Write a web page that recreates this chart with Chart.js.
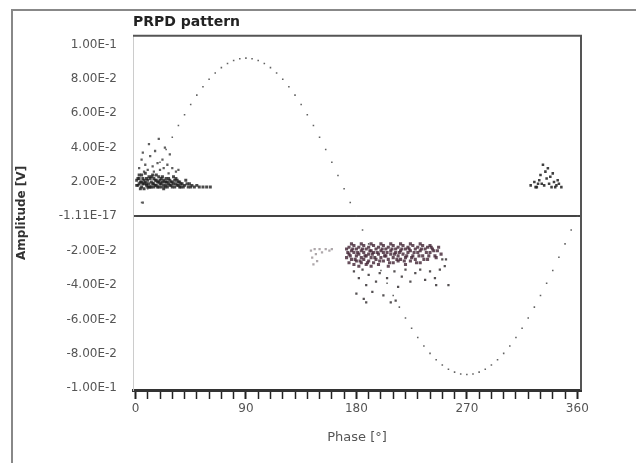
<!DOCTYPE html>
<html>
<head>
<meta charset="utf-8">
<script src="https://cdn.jsdelivr.net/npm/chart.js@4"></script>
<style>
  html, body { margin: 0; padding: 0; background: #fff; }
  #wrap { position: relative; width: 636px; height: 463px; }
</style>
</head>
<body>
<div id="wrap"><canvas id="prpd"></canvas></div>
<script>
// axis ticks
let xTicks = [0, 10, 20, 30, 40, 50, 60, 70, 80, 90, 100, 110, 120, 130, 140, 150, 160, 170, 180,
              190, 200, 210, 220, 230, 240, 250, 260, 270, 280, 290, 300, 310, 320, 330, 340, 350, 360]
let xTickLabels = [0, 90, 180, 270, 360]
let yTicks = [-0.1, -0.08, -0.06, -0.04, -0.02, -1.11e-17, 0.02, 0.04, 0.06, 0.08, 0.1]

// reference sine (phase deg, amplitude V)
let sinePhase = [0, 5, 10, 15, 20, 25, 30, 35, 40, 45, 50, 55, 60, 65, 70, 75, 80, 85, 90,
                 95, 100, 105, 110, 115, 120, 125, 130, 135, 140, 145, 150, 155, 160, 165, 170, 175, 180,
                 185, 190, 195, 200, 205, 210, 215, 220, 225, 230, 235, 240, 245, 250, 255, 260, 265, 270,
                 275, 280, 285, 290, 295, 300, 305, 310, 315, 320, 325, 330, 335, 340, 345, 350, 355, 360]
let sineAmp = [0, .0080, .0160, .0238, .0315, .0389, .0460, .0528, .0591, .0651, .0705, .0754, .0797, .0834, .0865, .0889, .0906, .0917, .0920,
               .0917, .0906, .0889, .0865, .0834, .0797, .0754, .0705, .0651, .0591, .0528, .0460, .0389, .0315, .0238, .0160, .0080, 0,
               -.0080, -.0160, -.0238, -.0315, -.0389, -.0460, -.0528, -.0591, -.0651, -.0705, -.0754, -.0797, -.0834, -.0865, -.0889, -.0906, -.0917, -.0920,
               -.0917, -.0906, -.0889, -.0865, -.0834, -.0797, -.0754, -.0705, -.0651, -.0591, -.0528, -.0460, -.0389, -.0315, -.0238, -.0160, -.0080, 0]

// positive half cluster near 0-60 deg
let posCluster = [
  [1, .021], [2, .018], [3, .024], [4, .020], [5, .017], [6, .022], [7, .019], [8, .025], [9, .018], [10, .021],
  [11, .023], [12, .017], [13, .020], [14, .019], [15, .022], [16, .018], [17, .024], [18, .020], [19, .017], [20, .021],
  [21, .019], [22, .023], [23, .018], [24, .020], [25, .022], [26, .017], [27, .019], [28, .021], [29, .018], [30, .020],
  [31, .023], [32, .017], [33, .019], [34, .021], [35, .018], [36, .020], [37, .017], [38, .019], [40, .018], [41, .021],
  [43, .017], [44, .019], [46, .018], [48, .017], [50, .018], [52, .017], [55, .017], [58, .017], [61, .017],
  [2, .022], [4, .016], [6, .019], [8, .020], [10, .017], [12, .022], [14, .024], [16, .021], [18, .017], [20, .019],
  [22, .020], [24, .017], [26, .020], [28, .018], [30, .017], [32, .021], [34, .018], [36, .017], [3, .019], [5, .020],
  [7, .016], [9, .022], [11, .019], [13, .017], [15, .019], [17, .018], [19, .020], [21, .017], [23, .021], [25, .018],
  [1, .018], [3, .022], [5, .024], [7, .021], [9, .019], [11, .017], [13, .023], [15, .017], [17, .021], [19, .023],
  [21, .022], [23, .016], [25, .020], [27, .022], [29, .020], [31, .019], [33, .022], [35, .020], [37, .019], [39, .017],
  [42, .019], [45, .017]
]
let posScatter = [
  [3, .028], [5, .033], [8, .030], [10, .027], [12, .035], [14, .029], [16, .038], [18, .031], [20, .027], [22, .033],
  [24, .040], [26, .030], [28, .036], [11, .042], [7, .026], [19, .045], [15, .026], [30, .028], [33, .026], [6, .037],
  [23, .028], [27, .025], [35, .027], [6, .008]
]
// positive half cluster near 320-350 deg
let posCluster2 = [
  [322, .018], [325, .020], [327, .017], [329, .021], [331, .019], [333, .018], [335, .022], [337, .019], [339, .017], [341, .020],
  [343, .018], [345, .019], [347, .017], [330, .024], [334, .026], [336, .028], [332, .030], [338, .023], [340, .025], [326, .017],
  [344, .021], [328, .019], [342, .017]
]
// negative half cluster near 170-250 deg
let negCluster = [
  [172, -.019], [172, -.024], [174, -.018], [174, -.022], [174, -.027], [176, -.020], [176, -.025], [178, -.017], [178, -.021], [178, -.028],
  [180, -.019], [180, -.023], [180, -.026], [182, -.018], [182, -.022], [182, -.029], [184, -.020], [184, -.024], [184, -.027], [186, -.017],
  [186, -.021], [186, -.025], [188, -.019], [188, -.023], [188, -.028], [190, -.018], [190, -.022], [190, -.026], [192, -.020], [192, -.024],
  [192, -.029], [194, -.017], [194, -.021], [194, -.027], [196, -.019], [196, -.025], [198, -.018], [198, -.022], [198, -.028], [200, -.020],
  [200, -.024], [202, -.017], [202, -.021], [202, -.026], [204, -.019], [204, -.023], [206, -.018], [206, -.025], [206, -.029], [208, -.020],
  [208, -.022], [210, -.017], [210, -.024], [210, -.027], [212, -.019], [212, -.021], [214, -.018], [214, -.023], [214, -.026], [216, -.020],
  [216, -.025], [218, -.017], [218, -.022], [220, -.019], [220, -.024], [220, -.028], [222, -.018], [222, -.021], [224, -.020], [224, -.026],
  [226, -.017], [226, -.023], [228, -.019], [228, -.025], [230, -.018], [230, -.021], [232, -.020], [232, -.027], [234, -.017], [234, -.023],
  [236, -.019], [238, -.018], [238, -.025], [240, -.021], [242, -.019], [244, -.023], [246, -.020],
  [173, -.021], [175, -.023], [177, -.019], [179, -.025], [181, -.021], [183, -.026], [185, -.019], [187, -.023], [189, -.027], [191, -.020],
  [193, -.022], [195, -.024], [197, -.021], [199, -.026], [201, -.019], [203, -.023], [205, -.021], [207, -.027], [209, -.019], [211, -.022],
  [213, -.025], [215, -.021], [217, -.019], [219, -.026], [221, -.023], [223, -.019], [225, -.024], [227, -.021], [229, -.027], [231, -.023],
  [233, -.019], [235, -.025], [237, -.021], [239, -.023], [241, -.018], [243, -.020], [245, -.024], [247, -.018], [249, -.022],
  [176, -.016], [184, -.016], [192, -.016], [200, -.016], [208, -.016], [216, -.016], [224, -.016], [232, -.016], [240, -.017]
]
let negLight = [
  [143, -.020], [144, -.024], [145, -.028], [146, -.019], [147, -.022], [148, -.026], [150, -.019], [152, -.021], [155, -.019], [158, -.020], [160, -.019]
]
let negScatter = [
  [178, -.032], [182, -.036], [185, -.031], [188, -.040], [190, -.034], [193, -.044], [196, -.038], [199, -.033], [202, -.046], [205, -.036],
  [208, -.050], [211, -.032], [214, -.041], [217, -.035], [220, -.031], [224, -.038], [228, -.033], [232, -.031], [236, -.037], [240, -.032],
  [244, -.036], [248, -.031], [250, -.025], [252, -.029], [180, -.045], [186, -.048], [188, -.050], [212, -.049], [245, -.040], [255, -.040], [253, -.025]
]

function pts(list) {
    return list.map(p => ({ x: p[0], y: p[1] }))
}

let sinePts = sinePhase.map((p, i) => ({ x: p, y: sineAmp[i] }))

// frame + plot border
let framePlugin = {
    id: 'frame',
    beforeDraw(chart) {
        let c = chart.ctx
        c.save()
        c.fillStyle = '#fff'
        c.fillRect(0, 0, chart.width, chart.height)
        c.strokeStyle = '#888'
        c.lineWidth = 2
        c.beginPath()
        c.moveTo(12, chart.height)
        c.lineTo(12, 10)
        c.lineTo(chart.width, 10)
        c.stroke()
        c.restore()
    },
    afterDraw(chart) {
        let a = chart.chartArea
        let c = chart.ctx
        c.save()
        c.strokeStyle = '#555'
        c.lineWidth = 2
        c.beginPath()
        c.moveTo(a.left, a.top)
        c.lineTo(a.right, a.top)
        c.lineTo(a.right, a.bottom)
        c.stroke()
        c.restore()
    }
}

Chart.defaults.font.family = 'DejaVu Sans'

var ctx = document.getElementById('prpd')
var prpd = new Chart(ctx, {
    type: 'scatter',
    data: {
        datasets: [
            { data: sinePts, backgroundColor: 'rgba(80,80,80,0.9)', pointRadius: 1.1 },
            { data: pts(negLight), backgroundColor: 'rgba(120,110,115,0.6)', pointRadius: 1.6 },
            { data: pts(posScatter), backgroundColor: 'rgba(55,55,55,0.8)', pointRadius: 1.6 },
            { data: pts(negScatter), backgroundColor: 'rgba(55,50,53,0.85)', pointRadius: 1.6 },
            { data: pts(posCluster), backgroundColor: 'rgba(30,30,30,0.8)', pointRadius: 2.1 },
            { data: pts(posCluster2), backgroundColor: 'rgba(30,30,30,0.85)', pointRadius: 1.8 },
            { data: pts(negCluster), backgroundColor: 'rgba(70,40,56,0.82)', pointRadius: 2.2 }
        ]
    },
    options: {
        responsive: true,
        maintainAspectRatio: false,
        animation: false,
        elements: { point: { pointStyle: 'rect', borderWidth: 0 } },
        layout: { padding: { left: 0, right: 55, top: 0, bottom: 0 } },
        plugins: {
            legend: { display: false },
            tooltip: { enabled: false },
            title: {
                display: true,
                text: 'PRPD pattern',
                align: 'start',
                fullSize: false,
                color: '#222',
                font: { size: 14, weight: 'bold' },
                padding: { top: 14, bottom: 5 }
            }
        },
        scales: {
            x: {
                type: 'linear',
                min: -2,
                max: 363,
                afterBuildTicks(scale) {
                    scale.ticks = xTicks.map(v => ({ value: v }))
                },
                afterFit(scale) {
                    scale.height = 73
                },
                ticks: {
                    autoSkip: false,
                    maxRotation: 0,
                    padding: 3,
                    color: '#555',
                    font: { size: 12 },
                    callback: v => xTickLabels.includes(v) ? String(v) : ''
                },
                grid: {
                    drawOnChartArea: false,
                    drawTicks: true,
                    tickLength: 9,
                    tickColor: '#222',
                    tickWidth: c => c.tick && xTickLabels.includes(c.tick.value) ? 2 : 1.5
                },
                border: { color: '#333', width: 3 },
                title: {
                    display: true,
                    text: 'Phase [°]',
                    color: '#555',
                    font: { size: 13 },
                    padding: { top: 2, bottom: 18 }
                }
            },
            y: {
                type: 'linear',
                min: -0.101,
                max: 0.105,
                afterBuildTicks(scale) {
                    scale.ticks = yTicks.map(v => ({ value: v }))
                },
                afterFit(scale) {
                    scale.width = 133
                },
                ticks: {
                    padding: 16,
                    color: '#555',
                    font: { size: 12 },
                    callback: v => v.toExponential(2).toUpperCase()
                },
                grid: {
                    drawTicks: false,
                    color: c => c.tick && Math.abs(c.tick.value) < 1e-9 ? '#444' : 'rgba(0,0,0,0)',
                    lineWidth: 2
                },
                border: { color: '#ccc', width: 1 },
                title: {
                    display: true,
                    text: 'Amplitude [V]',
                    color: '#333',
                    font: { size: 12, weight: 'bold' },
                    padding: { top: 15, bottom: 0 }
                }
            }
        }
    },
    plugins: [framePlugin]
})
</script>
</body>
</html>
